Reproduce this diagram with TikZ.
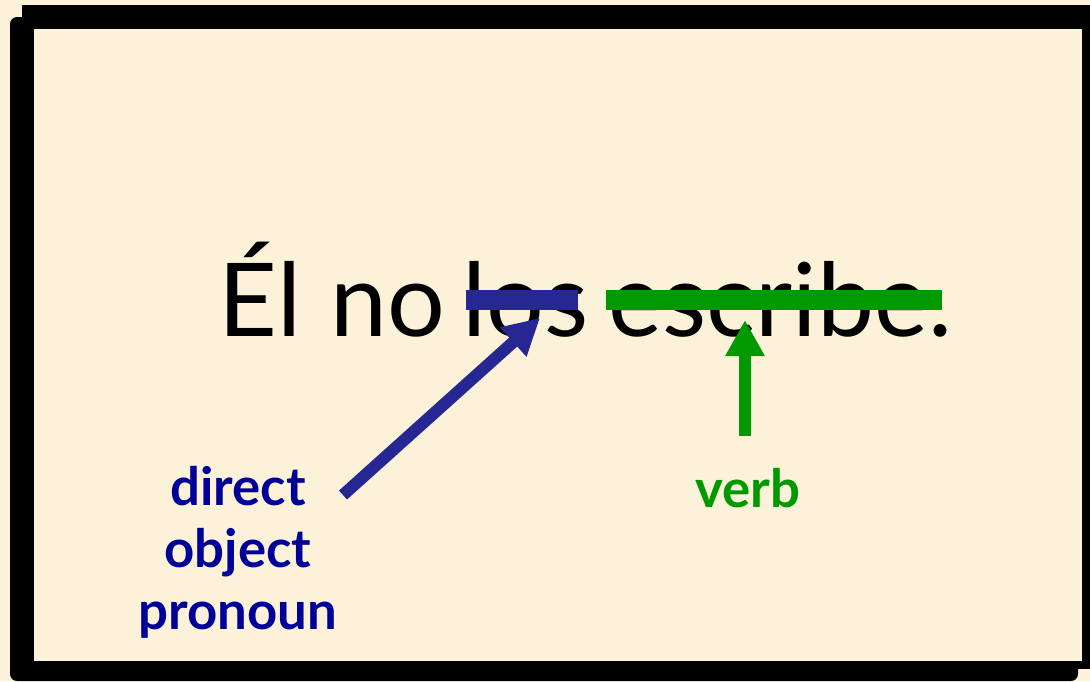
\documentclass[tikz,border=0pt]{standalone}
\usepackage{fontspec}
\setmainfont{Lato}
\usetikzlibrary{arrows.meta,positioning,calc}
\definecolor{Parchment}{HTML}{FCF1D9}
\definecolor{PronounBlue}{HTML}{000099}
\definecolor{StrikeBlue}{HTML}{272793}
\definecolor{VerbGreen}{HTML}{009900}

\begin{document}
\begin{tikzpicture}[x=0.01cm,y=-0.01cm,
  word/.style={inner sep=0pt,anchor=base west,font=\fontsize{29}{29}\selectfont},
  tag/.style={align=center,inner sep=0pt,font=\fontsize{15}{17.6}\selectfont\bfseries},
  bar/.style={line width=0.2cm},
  arr/.style={-{Triangle[length=0.36cm,width=0.37cm]},line width=0.12cm}
]
  % slide frame
  \fill[Parchment] (0,0) rectangle (1090,681);
  \fill[black,rounded corners=2pt] (10,17) rectangle (1078,681);
  \fill[black] (22,5) rectangle (1090,669);
  \fill[Parchment] (34,29) rectangle (1082,661);

  % sentence
  \node[word] (el) at (218,336) {Él};
  \node[word] (no) at (330,336) {no};
  \node[word] (los) at (462,336) {los};
  \node[word] (escribe) at (608,336) {escribe.};
  \draw[bar,StrikeBlue] (466,300) -- (578,300);
  \draw[bar,VerbGreen] (606,300) -- (942,300);

  % labels
  \node[tag,text=PronounBlue] (dop) at (238,552) {direct\\object\\pronoun};
  \node[tag,text=VerbGreen] (verb) at (748,488) {verb};
  \coordinate (dopStart) at (343,495);
  \coordinate (losTip) at (540,318);
  \coordinate (verbStart) at (745,436);
  \coordinate (escribeTip) at (745,320);
  \draw[arr,StrikeBlue] (dopStart) -- (losTip);
  \draw[arr,VerbGreen] (verbStart) -- (escribeTip);
\end{tikzpicture}
\end{document}
